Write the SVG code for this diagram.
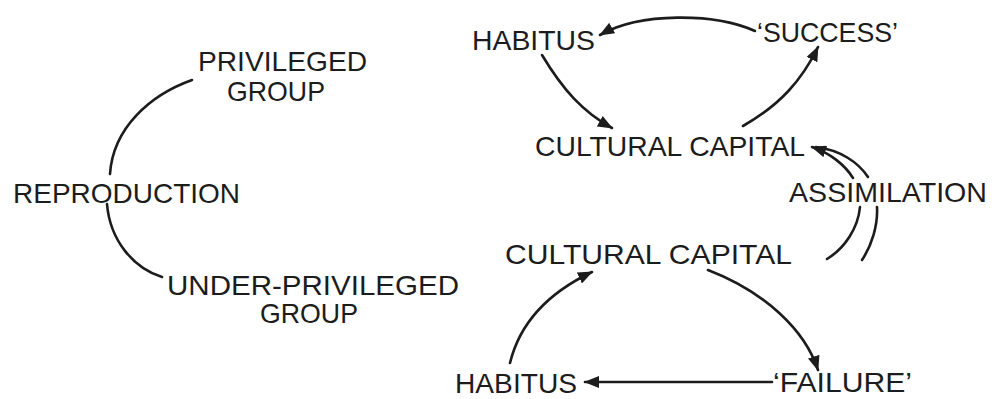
<svg xmlns="http://www.w3.org/2000/svg" width="992" height="399" viewBox="0 0 992 399">
  <style>
    .lbl { font-family: "Liberation Sans", Arial, sans-serif; font-size: 28px; fill: #1c1c1c; }
    .ln { fill: none; stroke: #1c1c1c; stroke-width: 2.6; stroke-linecap: round; }
  </style>
  <defs>
    <marker id="head" markerUnits="userSpaceOnUse" markerWidth="16" markerHeight="12" refX="14" refY="6" orient="auto">
      <path d="M0,0 L15,6 L0,12 Z" fill="#1c1c1c"/>
    </marker>
  </defs>
  <rect width="992" height="399" fill="#ffffff"/>

  <!-- left: reproduction -->
  <g id="privileged">
    <text class="lbl" x="198" y="71" textLength="169" lengthAdjust="spacingAndGlyphs">PRIVILEGED</text>
    <text class="lbl" x="227" y="101" textLength="98" lengthAdjust="spacingAndGlyphs">GROUP</text>
  </g>
  <g id="reproduction">
    <text class="lbl" x="13" y="203" textLength="227" lengthAdjust="spacingAndGlyphs">REPRODUCTION</text>
  </g>
  <g id="underprivileged">
    <text class="lbl" x="167" y="295" textLength="292" lengthAdjust="spacingAndGlyphs">UNDER-PRIVILEGED</text>
    <text class="lbl" x="260" y="323" textLength="98" lengthAdjust="spacingAndGlyphs">GROUP</text>
  </g>

  <!-- right: success cycle -->
  <g id="habitus-top">
    <text class="lbl" x="472" y="50" textLength="123" lengthAdjust="spacingAndGlyphs">HABITUS</text>
  </g>
  <g id="success">
    <text class="lbl" x="757" y="42" textLength="141" lengthAdjust="spacingAndGlyphs">‘SUCCESS’</text>
  </g>
  <g id="capital-top">
    <text class="lbl" x="535" y="156" textLength="270" lengthAdjust="spacingAndGlyphs">CULTURAL CAPITAL</text>
  </g>
  <g id="assimilation">
    <text class="lbl" x="789" y="202" textLength="198" lengthAdjust="spacingAndGlyphs">ASSIMILATION</text>
  </g>

  <!-- right: failure cycle -->
  <g id="capital-bottom">
    <text class="lbl" x="505" y="264" textLength="287" lengthAdjust="spacingAndGlyphs">CULTURAL CAPITAL</text>
  </g>
  <g id="habitus-bottom">
    <text class="lbl" x="455" y="393" textLength="122" lengthAdjust="spacingAndGlyphs">HABITUS</text>
  </g>
  <g id="failure">
    <text class="lbl" x="773" y="392" textLength="139" lengthAdjust="spacingAndGlyphs">‘FAILURE’</text>
  </g>

  <g id="connectors">
    <!-- reproduction arc, broken by its label -->
    <path class="ln" d="M192,80 C150,95 113,128 110,174"/>
    <path class="ln" d="M107,204 C110,240 133,268 162,277"/>

    <!-- success cycle -->
    <path class="ln" d="M755,31 C715,13 640,12 600,35" marker-end="url(#head)"/>
    <path class="ln" d="M542,55 C563,90 583,112 612,128" marker-end="url(#head)"/>
    <path class="ln" d="M743,126 C780,105 802,80 818,47" marker-end="url(#head)"/>

    <!-- assimilation: two strokes rising to the upper capital -->
    <path class="ln" d="M827,259 C845,248 858,228 860,207"/>
    <path class="ln" d="M853,178 C845,165 830,153 812,147" marker-end="url(#head)"/>
    <path class="ln" d="M862,260 C872,245 878,225 877,207"/>
    <path class="ln" d="M868,177 C858,162 840,150 816,147"/>

    <!-- failure cycle -->
    <path class="ln" d="M510,363 C520,322 550,292 592,272" marker-end="url(#head)"/>
    <path class="ln" d="M708,270 C765,292 805,330 818,370" marker-end="url(#head)"/>
    <path class="ln" d="M772,382 L585,382" marker-end="url(#head)"/>
  </g>
</svg>
